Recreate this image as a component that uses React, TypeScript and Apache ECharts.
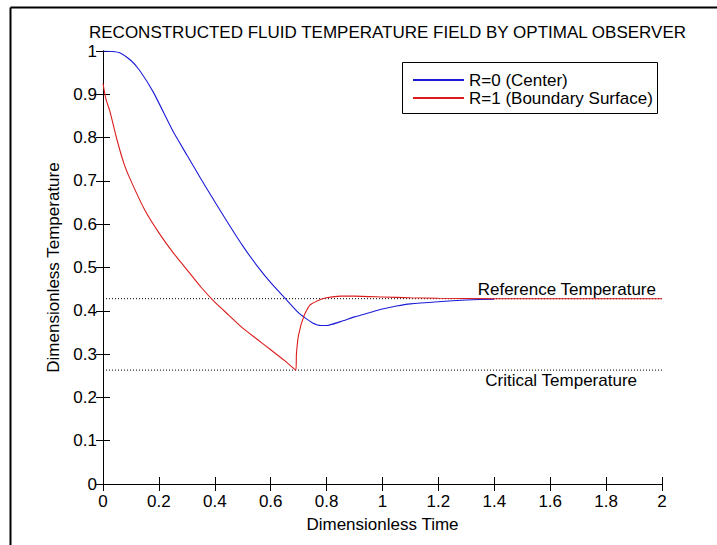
import React, { useEffect, useRef } from "react";
import * as echarts from "echarts";

const TITLE = "RECONSTRUCTED FLUID TEMPERATURE FIELD BY OPTIMAL OBSERVER";
const X_NAME = "Dimensionless Time";
const Y_NAME = "Dimensionless Temperature";
const SERIES_NAMES = ["R=0 (Center)", "R=1 (Boundary Surface)"];

const centerT = [0, 0.03, 0.06, 0.1, 0.13, 0.18, 0.25, 0.3, 0.35, 0.4, 0.45, 0.5, 0.55, 0.6, 0.65, 0.7, 0.72, 0.75, 0.78, 0.8, 0.85, 0.9, 0.95, 1.0, 1.05, 1.1, 1.2, 1.3, 1.4];
const centerV = [1.0, 0.999, 0.996, 0.978, 0.956, 0.905, 0.815, 0.76, 0.705, 0.652, 0.6, 0.55, 0.505, 0.465, 0.43, 0.395, 0.385, 0.372, 0.366, 0.366, 0.375, 0.386, 0.395, 0.404, 0.411, 0.416, 0.421, 0.425, 0.427];

const surfT = [0, 0.01, 0.025, 0.05, 0.075, 0.1, 0.15, 0.2, 0.25, 0.3, 0.35, 0.4, 0.45, 0.5, 0.55, 0.6, 0.65, 0.69, 0.692, 0.7, 0.72, 0.74, 0.77, 0.8, 0.85, 0.9, 1.0, 1.1, 1.2, 1.4, 2.0];
const surfV = [0.925, 0.89, 0.86, 0.795, 0.74, 0.7, 0.632, 0.58, 0.535, 0.495, 0.455, 0.42, 0.39, 0.36, 0.335, 0.31, 0.285, 0.263, 0.3, 0.345, 0.39, 0.413, 0.424, 0.43, 0.434, 0.434, 0.432, 0.43, 0.429, 0.428, 0.428];

const REF_TEMP = 0.428;
const CRIT_TEMP = 0.263;
const REF_LABEL = "Reference Temperature";
const CRIT_LABEL = "Critical Temperature";

const X_MIN = 0, X_MAX = 2, X_STEP = 0.2;
const Y_MIN = 0, Y_MAX = 1, Y_STEP = 0.1;

const FONT = "'Liberation Sans', Arial, sans-serif";
const FS = 17;

export default function App() {
  const ref = useRef<HTMLDivElement>(null);
  useEffect(() => {
    document.body.style.margin = "0";
    const el = ref.current!;
    const chart = echarts.init(el, null, { renderer: "svg" });
    const zip = (a: number[], b: number[]) => a.map((t, i) => [t, b[i]]);
    const tick = { inside: true, length: 7, lineStyle: { color: "#000" } };
    const axLine = { lineStyle: { color: "#000", width: 1 } };
    const lab = { color: "#000", fontFamily: FONT, fontSize: FS };
    chart.setOption({
      animation: false,
      backgroundColor: "#fff",
      title: {
        text: TITLE,
        left: 382.5,
        textAlign: "center",
        top: 19,
        textStyle: { color: "#000", fontFamily: FONT, fontSize: FS, fontWeight: "normal" },
      },
      grid: { left: 103, right: 55, top: 51, bottom: 61, containLabel: false },
      legend: {
        data: SERIES_NAMES,
        orient: "vertical",
        left: 402,
        top: 62,
        padding: [9, 7, 6, 10],
        itemWidth: 51,
        itemHeight: 14,
        itemGap: 0,
        itemStyle: { opacity: 0 },
        textStyle: { color: "#000", fontFamily: FONT, fontSize: FS, lineHeight: 18 },
        z: 10,
      },
      xAxis: [
        {
          type: "value", min: X_MIN, max: X_MAX, interval: X_STEP,
          name: X_NAME, nameLocation: "middle", nameGap: 32,
          nameTextStyle: lab,
          axisLine: axLine, axisTick: tick, splitLine: { show: false },
          axisLabel: { ...lab, margin: 9 },
        },
        {
          type: "value", min: X_MIN, max: X_MAX, interval: X_STEP, position: "top",
          axisLine: axLine, axisTick: tick, splitLine: { show: false },
          axisLabel: { show: false },
        },
      ],
      yAxis: [
        {
          type: "value", min: Y_MIN, max: Y_MAX, interval: Y_STEP,
          name: Y_NAME, nameLocation: "middle", nameGap: 38, nameRotate: 90,
          nameTextStyle: lab,
          axisLine: { show: true, ...axLine }, axisTick: tick, splitLine: { show: false },
          axisLabel: { ...lab, margin: 6 },
        },
        {
          type: "value", min: Y_MIN, max: Y_MAX, interval: Y_STEP, position: "right",
          axisLine: { show: true, ...axLine }, axisTick: tick, splitLine: { show: false },
          axisLabel: { show: false },
        },
      ],
      series: [
        {
          name: "refline", type: "line", data: [[X_MIN, REF_TEMP], [X_MAX, REF_TEMP]],
          symbol: "none", lineStyle: { color: "#000", width: 1, type: [1, 2] }, silent: true,
        },
        {
          name: "critline", type: "line", data: [[X_MIN, CRIT_TEMP], [X_MAX, CRIT_TEMP]],
          symbol: "none", lineStyle: { color: "#000", width: 1, type: [1, 2] }, silent: true,
        },
        {
          name: SERIES_NAMES[0], type: "line", data: zip(centerT, centerV),
          symbol: "none", smooth: 0.2, lineStyle: { color: "#1c1cd8", width: 1.1 },
          itemStyle: { color: "#1c1cd8" },
        },
        {
          name: SERIES_NAMES[1], type: "line", data: zip(surfT, surfV),
          symbol: "none", smooth: 0.15, lineStyle: { color: "#dc1c1c", width: 1.1 },
          itemStyle: { color: "#dc1c1c" },
        },
      ],
    });
    const pr = chart.convertToPixel({ gridIndex: 0 }, [X_MAX, REF_TEMP]) as number[];
    const pc = chart.convertToPixel({ gridIndex: 0 }, [X_MAX, CRIT_TEMP]) as number[];
    chart.setOption({
      graphic: [
        { type: "line", shape: { x1: 10.5, y1: 7.5, x2: 717, y2: 7.5 }, style: { stroke: "#000", lineWidth: 2 } },
        { type: "line", shape: { x1: 10.5, y1: 7.5, x2: 10.5, y2: 545 }, style: { stroke: "#000", lineWidth: 2 } },
        { type: "rect", shape: { x: 402.5, y: 62.5, width: 255, height: 51 }, style: { fill: "#fff", stroke: "#000", lineWidth: 1 }, z: 5 },
        { type: "text", x: pr[0] - 6, y: pr[1] - 9, style: { text: REF_LABEL, fill: "#000", font: `${FS}px ${FONT}`, align: "right", verticalAlign: "middle" }, z: 6 },
        { type: "text", x: pc[0] - 25, y: pc[1] + 10, style: { text: CRIT_LABEL, fill: "#000", font: `${FS}px ${FONT}`, align: "right", verticalAlign: "middle" }, z: 6 },
      ],
    });
    return () => chart.dispose();
  }, []);
  return <div ref={ref} style={{ width: 717, height: 545 }} />;
}
